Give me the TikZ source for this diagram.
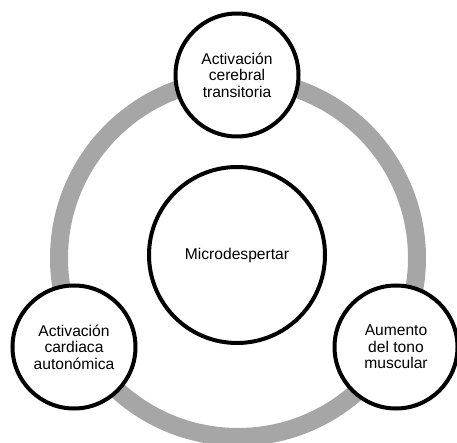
\documentclass[tikz,border=0pt]{standalone}
\usepackage{fontspec}
\setmainfont{Liberation Sans}
\definecolor{ringgray}{RGB}{166,166,166}

\begin{document}
\begin{tikzpicture}[x=1pt,y=-1pt,
		bubble/.style={circle,draw=black,line width=4pt,fill=white,align=center,inner sep=0pt,
			minimum size=123pt,font=\fontsize{15.6}{16.4}\selectfont}]
		\useasboundingbox (0,0) rectangle (457,443);
		\draw[ringgray,line width=18pt] (238,258) circle (179);
		\node[bubble,minimum size=176pt] (micro) at (237,255) {Microdespertar};
		\node[bubble] (cerebral) at (237,75) {Activación\\cerebral\\transitoria};
		\node[bubble] (cardiaca) at (74,347) {Activación\\cardiaca\\autonómica};
		\node[bubble] (tono) at (396,347) {Aumento\\del tono\\muscular};
	\end{tikzpicture}
\end{document}
